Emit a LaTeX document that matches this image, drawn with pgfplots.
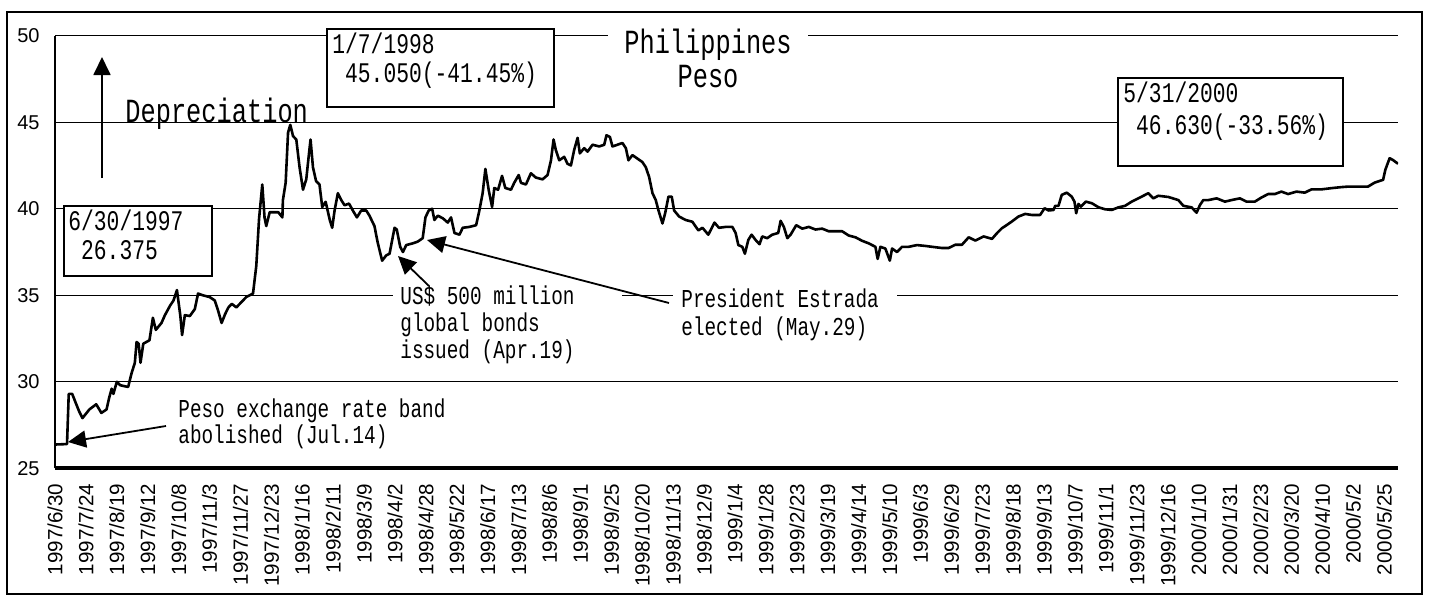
\documentclass[border=0pt]{standalone}
\usepackage{fontspec}
\setmainfont{Liberation Sans}
\newfontfamily\gothic[FakeStretch=0.75]{Liberation Mono}
\usepackage{pgfplots}
\pgfplotsset{compat=1.18}
\usetikzlibrary{arrows.meta}

% sizes of the annotation text
\newcommand\bigt{\gothic\fontsize{16.9}{18}\selectfont}
\newcommand\boxt{\gothic\fontsize{14.2}{16}\selectfont}
\newcommand\notet{\gothic\fontsize{12.9}{14}\selectfont}

\begin{document}
\begin{tikzpicture}
\begin{axis}[
  at={(27.5pt,63.85pt)}, anchor=south west,
  scale only axis, width=671.5pt, height=216.3pt,
  xmin=0, xmax=782, ymin=25, ymax=50,
  axis x line*=bottom, axis y line*=left,
  x axis line style={line width=2pt},
  y axis line style={line width=0.6pt},
  major tick length=0pt,
  ytick={25,30,...,50},
  ymajorgrids, grid style={black, line width=0.5pt},
  xtick={0,18,...,774},
  xticklabels={1997/6/30,1997/7/24,1997/8/19,1997/9/12,1997/10/8,1997/11/3,1997/11/27,1997/12/23,
    1998/1/16,1998/2/11,1998/3/9,1998/4/2,1998/4/28,1998/5/22,1998/6/17,1998/7/13,1998/8/6,
    1998/9/1,1998/9/25,1998/10/20,1998/11/13,1998/12/9,1999/1/4,1999/1/28,1999/2/23,1999/3/19,
    1999/4/14,1999/5/10,1999/6/3,1999/6/29,1999/7/23,1999/8/18,1999/9/13,1999/10/7,1999/11/1,
    1999/11/23,1999/12/16,2000/1/10,2000/1/31,2000/2/23,2000/3/20,2000/4/10,2000/5/2,2000/5/25},
  xticklabel style={rotate=90, anchor=east, inner sep=0pt, font=\fontsize{10.3}{12}\selectfont},
  xticklabel shift=7.5pt,
  yticklabel style={anchor=east, inner sep=0pt, font=\fontsize{10}{12}\selectfont},
  yticklabel shift=7.5pt,
  /pgf/number format/assume math mode=true,
]
\addplot[black, line width=1.3pt, line join=round] coordinates {
(0,26.375) (7,26.4) (8,29.3) (10,29.3) (14,28.3) (16,27.9) (20,28.4) (24,28.7) (27,28.2) (30,28.4)
(31.6,29.1) (33,29.6) (34,29.3) (36,30.0) (38,29.8) (42.6,29.7) (44.6,30.5) (46.5,31.1) (47.5,32.3)
(48.7,32.2) (49.8,31.1) (51.4,32.2) (55,32.4) (57,33.7) (58.7,33.0) (62,33.4) (64,33.85) (67,34.4)
(69,34.7) (71,35.3) (73,33.8) (74,32.7) (75.6,33.85) (78.5,33.8) (81.4,34.2) (83.3,35.1) (86,35.0)
(90,34.9) (93,34.7) (95,34.1) (97,33.4) (99,33.9) (101,34.3) (103,34.5) (105.6,34.3) (108.5,34.6)
(111.4,34.9) (115.3,35.1) (117.2,36.7) (118.8,39.4) (120.7,41.4) (122,39.5) (123,39.0) (125,39.8)
(130,39.8) (132.4,39.5) (132.7,40.5) (134.3,41.5) (135.7,44.4) (137,44.85) (138.6,44.2) (140.5,44.0)
(142.4,42.4) (144.4,41.1) (146.3,41.7) (147.9,43.2) (148.8,44.0) (150.2,42.4) (152,41.6) (154,41.4)
(155.6,40.1) (157.6,40.4) (160,39.35) (161.4,38.9) (162.8,39.9) (164.7,40.9) (166.7,40.5) (168.6,40.2)
(171.2,40.3) (173.4,39.9) (175.8,39.5) (178.3,39.9) (181.2,39.9) (183.1,39.6) (186,39.0) (188,38.0)
(190.5,37.0) (192.8,37.3) (194.8,37.4) (197.7,38.9) (199,38.8) (201,37.8) (202.6,37.5) (204.5,37.9)
(208.3,38.0) (211.2,38.1) (214.1,38.3) (215.7,39.5) (217.6,39.9) (219.6,40.0) (220.9,39.35) (222.9,39.6)
(225.8,39.45) (228.7,39.2) (230.6,39.5) (232.6,38.6) (235.5,38.5) (237.4,38.9) (241.3,38.95) (245.2,39.05)
(247.1,39.9) (249,40.9) (250.6,42.3) (252.5,41.1) (254.5,40.1) (255.8,41.2) (258,41.1) (260.3,41.9)
(262.2,41.2) (265.5,41.1) (267.4,41.5) (270,41.95) (271.3,41.5) (274.2,41.4) (277.1,42.05) (280,41.8)
(283.9,41.7) (286.8,41.95) (288.8,42.8) (290.3,44.0) (291.6,43.4) (293.6,42.8) (296.5,43.0) (298.4,42.6)
(300.4,42.5) (302.3,43.4) (304.3,44.1) (305.6,43.2) (308.1,43.5) (310.1,43.3) (313,43.7) (316.9,43.6)
(319.8,43.7) (321.1,44.25) (323.1,44.15) (324.6,43.6) (327.5,43.7) (330.4,43.8) (332.4,43.5) (333.9,42.8)
(336.2,43.1) (339.1,42.9) (342,42.7) (344,42.4) (345.9,41.85) (347.9,40.9) (349.8,40.5) (351.4,39.9)
(353.7,39.15) (355.3,39.75) (357.2,40.7) (359.1,40.7) (360.5,39.9) (363.4,39.55) (367.2,39.35) (371.1,39.25)
(374.6,38.75) (377,38.9) (380.4,38.5) (384,39.2) (386.6,38.9) (390.5,38.95) (394.4,38.95) (396.3,38.6)
(397.9,37.9) (400.2,37.8) (401.7,37.4) (403.7,38.2) (405.6,38.5) (407.9,38.2) (410.2,37.95) (411.8,38.4)
(414.7,38.3) (417.6,38.5) (421.1,38.6) (422.5,39.3) (424.4,38.95) (426.4,38.3) (428.3,38.5) (431.6,39.05)
(435.1,38.85) (438.9,38.95) (442.8,38.8) (446.7,38.85) (450.5,38.7) (454.5,38.7) (458.3,38.7) (462.2,38.45)
(466.1,38.35) (469.9,38.15) (473.8,38.0) (477.7,37.8) (479,37.1) (480.6,37.8) (483.5,37.7) (486.1,37.0)
(487.4,37.7) (490.3,37.5) (493.2,37.8) (497.1,37.8) (501.9,37.9) (506.8,37.85) (510.7,37.8) (516.5,37.73)
(520.3,37.73) (524.2,37.92) (528.1,37.92) (532,38.35) (535.9,38.16) (540.7,38.4) (545.6,38.26) (548.4,38.58)
(551.3,38.87) (554.2,39.06) (557.1,39.26) (561,39.55) (564.9,39.7) (568.8,39.64) (573.6,39.64) (576.2,40.03)
(578.5,39.9) (581.4,39.93) (582.4,40.17) (584.3,40.17) (586.2,40.8) (589.1,40.93) (592,40.7) (593.6,40.41)
(594.6,39.74) (595.9,40.28) (597.3,40.12) (600.2,40.41) (603.7,40.32) (607.7,40.08) (611.4,39.97) (615.3,39.93)
(619.2,40.08) (623.1,40.17) (626.9,40.41) (631.8,40.65) (636.6,40.9) (639.5,40.6) (642.4,40.75) (648.3,40.68)
(654.1,40.5) (657,40.17) (661.8,40.08) (664.7,39.77) (666.7,40.22) (668.6,40.5) (671.5,40.5) (676.4,40.6)
(681.2,40.41) (685,40.5) (689.9,40.6) (693.8,40.41) (698.6,40.41) (702.5,40.65) (706.4,40.85) (710.3,40.85)
(714.1,40.99) (718,40.85) (722.9,40.99) (727.7,40.93) (731.6,41.12) (737.4,41.12) (743.2,41.19) (749,41.25)
(752.9,41.28) (758.7,41.28) (764.5,41.28) (768.4,41.51) (773.3,41.67) (774.6,42.25) (777.1,42.92) (779,42.82)
(782,42.6)
};
\end{axis}

% annotations, in pixel units of the reference (origin top left)
\begin{scope}[x=0.5pt, y=-0.5pt, shift={(0pt,298pt)}]
\path (0,0) rectangle (1429,596);
\draw[line width=1.3pt] (7,12) rectangle (1422,594);
\fill[white] (393,289) rectangle (622,305);
\fill[white] (673,289) rectangle (897,305);

\draw[line width=0.9pt, fill=white] (64,206) rectangle (212,276);
\node[anchor=base west, inner sep=0pt, font=\boxt] at (68,230) {6/30/1997};
\node[anchor=base west, inner sep=0pt, font=\boxt] at (68,259) {\phantom{0}26.375};

\draw[line width=0.9pt, fill=white] (327,29) rectangle (554,107);
\node[anchor=base west, inner sep=0pt, font=\boxt] at (332,53) {1/7/1998};
\node[anchor=base west, inner sep=0pt, font=\boxt] at (332,82) {\phantom{0}45.050(-41.45\%)};

\draw[line width=0.9pt, fill=white] (1118,78) rectangle (1343,166);
\node[anchor=base west, inner sep=0pt, font=\boxt] at (1123,102) {5/31/2000};
\node[anchor=base west, inner sep=0pt, font=\boxt] at (1123,134) {\phantom{0}46.630(-33.56\%)};

\node[anchor=base, fill=white, inner xsep=8pt, inner ysep=1pt, font=\bigt] at (708,53) {Philippines};
\node[anchor=base, inner sep=0pt, font=\bigt] at (708,87) {Peso};
\node[anchor=base west, inner sep=0pt, font=\bigt] at (125,122.7) {Depreciation};
\draw[line width=0.9pt, -{Triangle[length=9pt,width=8.5pt]}] (102,178) -- (102,57);

\node[anchor=base west, inner sep=0pt, font=\notet] at (178,417) {Peso exchange rate band};
\node[anchor=base west, inner sep=0pt, font=\notet] at (178,443) {abolished (Jul.14)};
\draw[line width=0.9pt, -{Triangle[length=9pt,width=8.5pt]}] (166,426) -- (68,442);

\node[anchor=base west, inner sep=0pt, font=\notet] at (400,304) {US\$ 500 million};
\node[anchor=base west, inner sep=0pt, font=\notet] at (400,331) {global bonds};
\node[anchor=base west, inner sep=0pt, font=\notet] at (400,358) {issued (Apr.19)};
\draw[line width=0.9pt, -{Triangle[length=9pt,width=8.5pt]}] (429,286) -- (398,256);

\node[anchor=base west, inner sep=0pt, font=\notet] at (681,307) {President Estrada};
\node[anchor=base west, inner sep=0pt, font=\notet] at (681,335) {elected (May.29)};
\draw[line width=0.9pt, -{Triangle[length=9pt,width=8.5pt]}] (669,303) -- (427,240);
\end{scope}
\end{tikzpicture}
\end{document}
